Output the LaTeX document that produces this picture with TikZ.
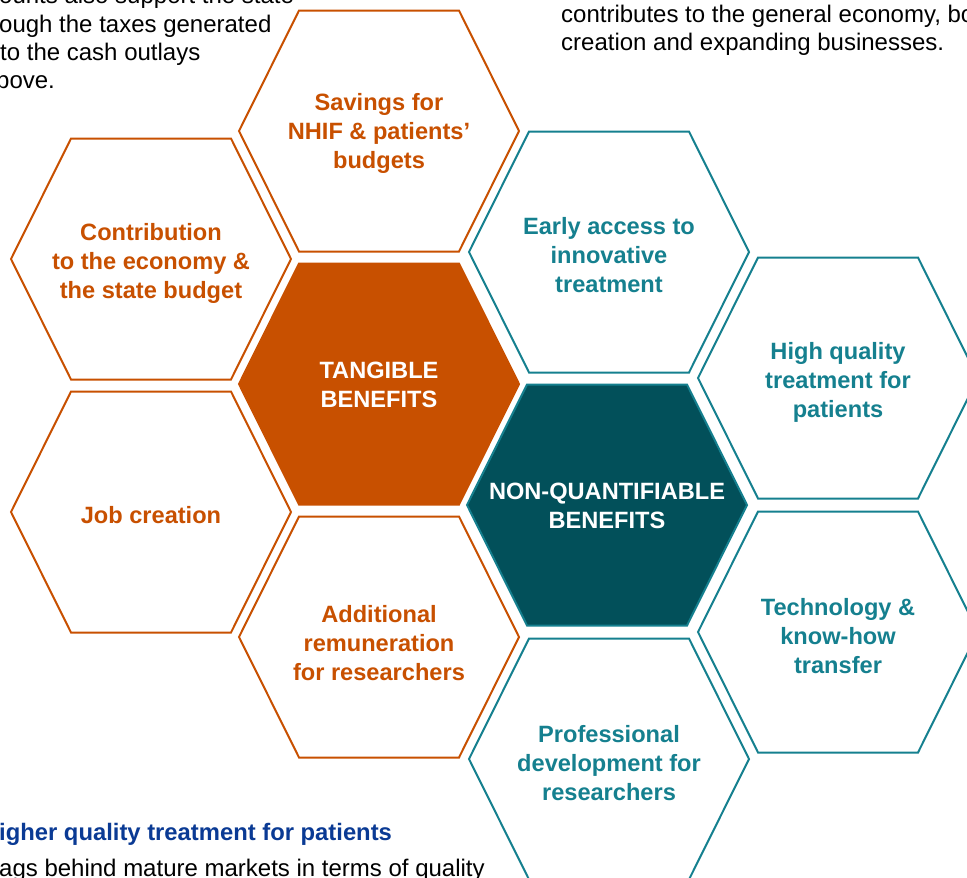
\documentclass[tikz,border=0pt]{standalone}
\usepackage{fontspec}
\setmainfont{Liberation Sans}
\definecolor{orng}{HTML}{C85000}
\definecolor{tealc}{HTML}{15808F}
\definecolor{dkteal}{HTML}{02505A}
\definecolor{hdblue}{HTML}{0A3A94}
\newcommand\hexpath[2]{(#1-140,#2) -- (#1-80,#2-120.5) -- (#1+80,#2-120.5) -- (#1+140,#2) -- (#1+80,#2+120.5) -- (#1-80,#2+120.5) -- cycle}
\begin{document}
\begin{tikzpicture}[x=1pt,y=-1pt,
  hexo/.style={draw=orng, line width=2pt, line join=miter},
  hext/.style={draw=tealc, line width=2pt, line join=miter},
  lbl/.style={align=center, inner sep=0pt, font=\fontsize{23.6}{29}\selectfont\bfseries},
  lblo/.style={lbl, text=orng},
  lblt/.style={lbl, text=tealc},
  lblw/.style={lbl, text=white},
  bodytxt/.style={anchor=base west, inner sep=0pt, font=\fontsize{24}{28}\selectfont},
  headtxt/.style={anchor=base west, inner sep=0pt, text=hdblue, font=\fontsize{23.8}{28}\selectfont\bfseries}]
\useasboundingbox (0,0) rectangle (967,878);
\clip (0,0) rectangle (967,878);
\fill[white] (0,0) rectangle (967,878);

% background text
\node[bodytxt] (t1) at (-1,4) {ounts also support the state};
\node[bodytxt] (t2) at (-1,32) {ough the taxes generated};
\node[bodytxt] (t3) at (0,60) {to the cash outlays};
\node[bodytxt] (t4) at (-4,88) {bove.};
\node[bodytxt] (r1) at (561,22) {contributes to the general economy, bo};
\node[bodytxt] (r2) at (561,50) {creation and expanding businesses.};
\node[headtxt] (h1) at (-1,840) {igher quality treatment for patients};
\node[bodytxt] (b1) at (-1,876) {ags behind mature markets in terms of quality};

% orange hexagons
\draw[hexo] \hexpath{151}{259};
\draw[hexo] \hexpath{151}{512};
\draw[hexo] \hexpath{379}{131};
\draw[hexo, fill=orng] \hexpath{379}{384};
\draw[hexo] \hexpath{379}{637};
% teal hexagons
\draw[hext] \hexpath{609}{252};
\draw[hext, fill=dkteal] \hexpath{607}{505};
\draw[hext] \hexpath{609}{759};
\draw[hext] \hexpath{838}{378};
\draw[hext] \hexpath{838}{632};

% labels
\node[lblo] (contrib) at (151,263) {Contribution\\to the economy \&\\the state budget};
\node[lblo] (jobs) at (151,515) {Job creation};
\node[lblo] (savings) at (379,133) {Savings for\\NHIF \& patients’\\budgets};
\node[lblw] (tangible) at (379,385) {TANGIBLE\\BENEFITS};
\node[lblo] (remun) at (379,643) {Additional\\remuneration\\for researchers};
\node[lblt] (early) at (609,255) {Early access to\\innovative\\treatment};
\node[lblw] (nonq) at (607,506) {NON-QUANTIFIABLE\\BENEFITS};
\node[lblt] (profdev) at (609,763) {Professional\\development for\\researchers};
\node[lblt] (quality) at (838,382) {High quality\\treatment for\\patients};
\node[lblt] (techtr) at (838,636) {Technology \&\\know-how\\transfer};
\end{tikzpicture}
\end{document}
